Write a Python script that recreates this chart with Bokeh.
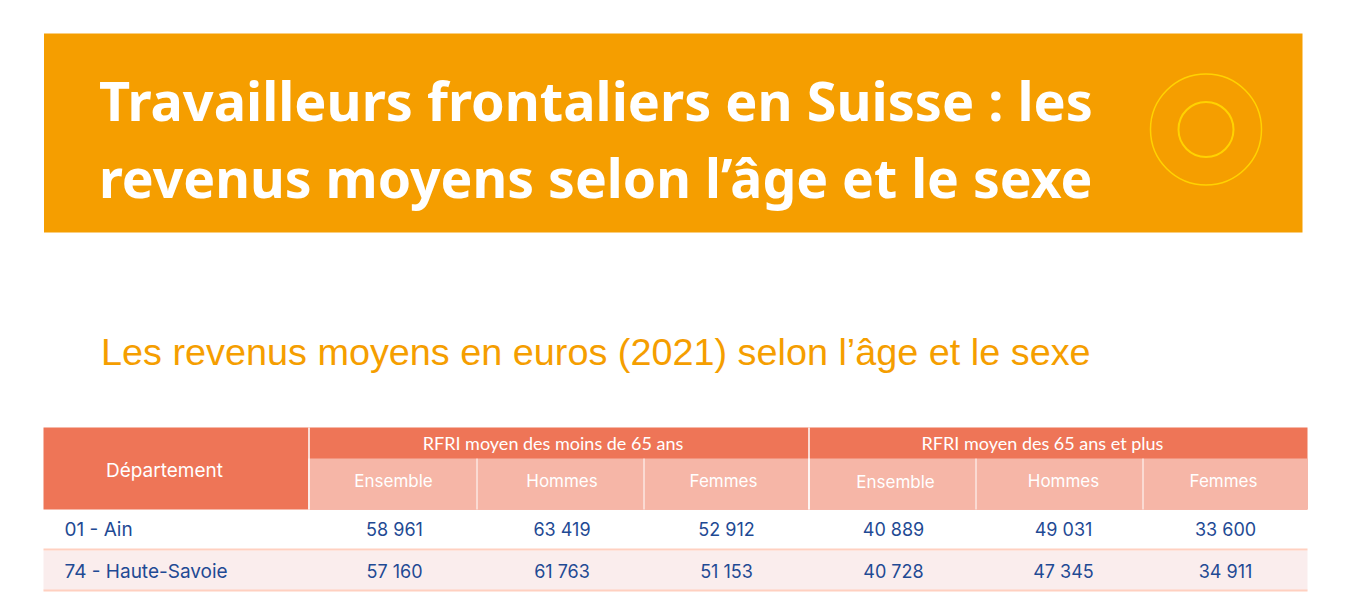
from bokeh.core.properties import value
from bokeh.embed import file_html
from bokeh.plotting import figure
from bokeh.resources import INLINE

# Textes
titre = ["Travailleurs frontaliers en Suisse : les", "revenus moyens selon l’âge et le sexe"]
sous_titre = "Les revenus moyens en euros (2021) selon l’âge et le sexe"
entete_dep = "Département"
groupes = ["RFRI moyen des moins de 65 ans", "RFRI moyen des 65 ans et plus"]
sexes = ["Ensemble", "Hommes", "Femmes", "Ensemble", "Hommes", "Femmes"]

# Données
departements = ["01 - Ain", "74 - Haute-Savoie"]
ain = [58961, 63419, 52912, 40889, 49031, 33600]
haute_savoie = [57160, 61763, 51153, 40728, 47345, 34911]

# Couleurs
ORANGE = "#f59e00"
JAUNE = "#ffd200"
CORAIL = "#ee7557"
CORAIL_CLAIR = "#f6b6a7"
ROSE = "#faeded"
BORDURE = "#ffd0c0"
BLEU = "#1f4a94"

# Colonnes du tableau, en pixels de la page
bords = [308.5, 476.5, 643.5, 808.5, 975.5, 1142.5, 1307]
centres_entete = [393, 561.5, 723, 895, 1063, 1223]
centres_valeurs = [394, 561.5, 726, 893, 1063, 1225]
POLICE = value("Inter")

p = figure(width=1348, height=597, x_range=(0, 1348), y_range=(597, 0),
           output_backend="svg", toolbar_location=None, min_border=0)
p.axis.visible = False
p.grid.visible = False
p.outline_line_color = None

# Bandeau du haut
p.quad(left=[43.5], right=[1302], top=[33], bottom=[232], color=ORANGE, line_color=None)
p.circle(x=[1205.5], y=[129], radius=[55.5], fill_color=None, line_color=JAUNE, line_width=1.5)
p.circle(x=[1205.5], y=[129], radius=[27.5], fill_color=None, line_color=JAUNE, line_width=2)
p.text(x=[98.5], y=[99], text=[titre[0]], text_color="white", text_font=value("Noto Sans"),
       text_font_style="bold", text_font_size="54px", text_baseline="alphabetic")
p.text(x=[98.5], y=[177], text=[titre[1]], text_color="white", text_font=value("Noto Sans"),
       text_font_style="bold", text_font_size="53.5px", text_baseline="alphabetic")
p.text(x=[100.5], y=[351.5], text=[sous_titre], text_color=ORANGE, text_font=value("Liberation Sans"),
       text_font_size="37.8px", text_baseline="alphabetic")

# En-têtes du tableau
p.quad(left=[43], right=[1307], top=[427], bottom=[509], color=CORAIL, line_color=None)
p.quad(left=[309.5], right=[1307], top=[458], bottom=[509], color=CORAIL_CLAIR, line_color=None)
p.quad(left=[43], right=[1307], top=[550], bottom=[590], color=ROSE, line_color=None)
p.segment(x0=[43, 43], x1=[1307, 1307], y0=[549, 590], y1=[549, 590], line_color=BORDURE, line_width=2)
p.segment(x0=bords[:-1], x1=bords[:-1], y0=[458] * 6, y1=[509] * 6, line_color="white", line_width=1)
p.segment(x0=[bords[0], bords[3]], x1=[bords[0], bords[3]], y0=[427, 427], y1=[509, 509],
          line_color="white", line_width=1.5)

p.text(x=[164], y=[470], text=[entete_dep], text_color="white", text_font=POLICE,
       text_font_size="19px", text_align="center", text_baseline="middle")
p.text(x=[552.5, 1042], y=[442, 442], text=groupes, text_color="white", text_font=value("Lato"),
       text_font_size="18px", text_align="center", text_baseline="middle")
p.text(x=centres_entete, y=[480, 480, 480, 481, 480, 480], text=sexes, text_color="white", text_font=POLICE,
       text_font_size="17px", text_align="center", text_baseline="middle")

# Lignes du tableau
for y, nom, valeurs in [(529, departements[0], ain), (571, departements[1], haute_savoie)]:
    p.text(x=[64], y=[y], text=[nom], text_color=BLEU, text_font=POLICE,
           text_font_size="19px", text_baseline="middle")
    p.text(x=centres_valeurs, y=[y] * 6, text=[f"{v:,}".replace(",", " ") for v in valeurs],
           text_color=BLEU, text_font=POLICE, text_font_size="18px",
           text_align="center", text_baseline="middle")

open("out.html", "w").write(file_html(p, INLINE))
